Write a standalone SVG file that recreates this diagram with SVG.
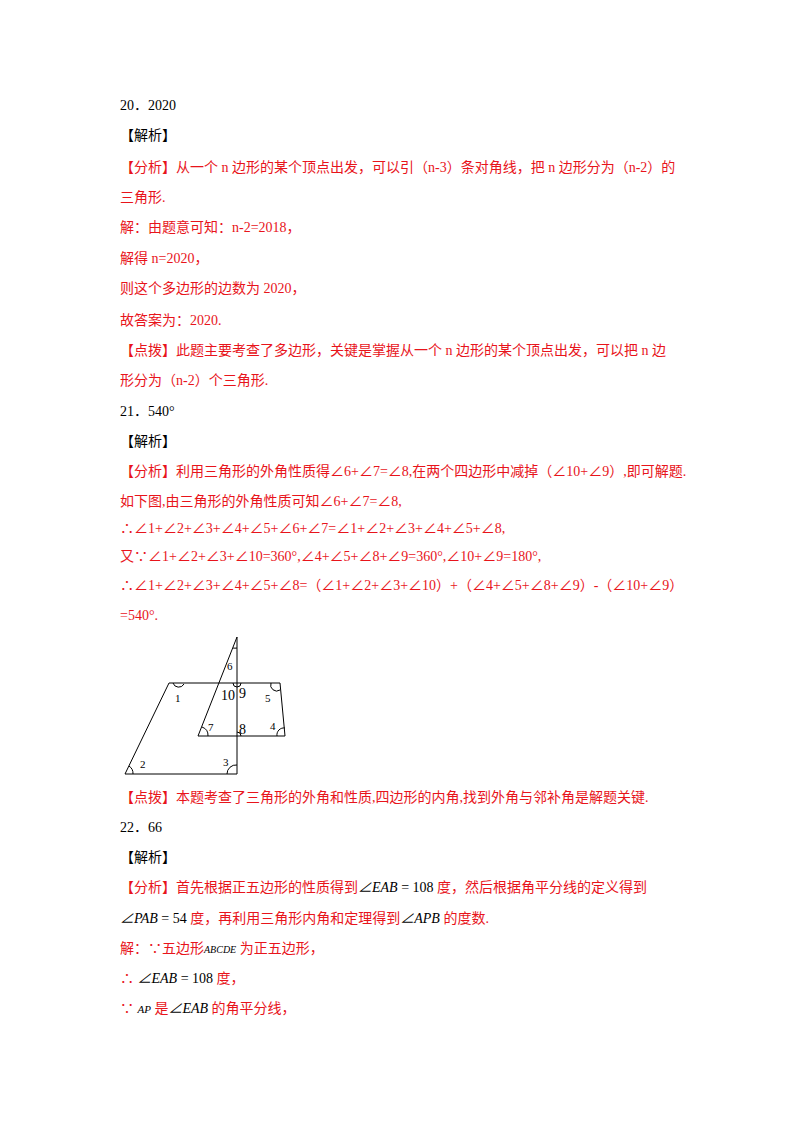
<svg xmlns="http://www.w3.org/2000/svg" width="800" height="1132" viewBox="0 0 800 1132">
<style>
text{font-family:"Liberation Serif","Noto Sans CJK SC",serif;font-size:14px;fill:#000}
.r{fill:#e8141b}
.fig line,.fig path{stroke:#000;stroke-width:1;fill:none}
.fl{font-size:11px}
</style>
<rect width="800" height="1132" fill="#fff"/>
<g id="text">
<text x="120" y="110">20．2020</text>
<text x="120" y="140">【解析】</text>
<text x="120" y="172" class="r">【分析】从一个 n 边形的某个顶点出发，可以引（n-3）条对角线，把 n 边形分为（n-2）的</text>
<text x="120" y="202" class="r">三角形.</text>
<text x="120" y="232" class="r">解：由题意可知：n-2=2018，</text>
<text x="120" y="263" class="r">解得 n=2020，</text>
<text x="120" y="293" class="r">则这个多边形的边数为 2020，</text>
<text x="120" y="325" class="r">故答案为：2020.</text>
<text x="120" y="355" class="r">【点拨】此题主要考查了多边形，关键是掌握从一个 n 边形的某个顶点出发，可以把 n 边</text>
<text x="120" y="385" class="r">形分为（n-2）个三角形.</text>
<text x="120" y="416">21．540°</text>
<text x="120" y="446">【解析】</text>
<text x="120" y="476" class="r">【分析】利用三角形的外角性质得∠6+∠7=∠8,在两个四边形中减掉（∠10+∠9）,即可解题.</text>
<text x="120" y="506" class="r">如下图,由三角形的外角性质可知∠6+∠7=∠8,</text>
<text x="120" y="533" class="r">∴∠1+∠2+∠3+∠4+∠5+∠6+∠7=∠1+∠2+∠3+∠4+∠5+∠8,</text>
<text x="120" y="561" class="r">又∵∠1+∠2+∠3+∠10=360°,∠4+∠5+∠8+∠9=360°,∠10+∠9=180°,</text>
<text x="120" y="590" class="r">∴∠1+∠2+∠3+∠4+∠5+∠8=（∠1+∠2+∠3+∠10）+（∠4+∠5+∠8+∠9）-（∠10+∠9）</text>
<text x="120" y="620" class="r">=540°.</text>
<text x="120" y="802" class="r">【点拨】本题考查了三角形的外角和性质,四边形的内角,找到外角与邻补角是解题关键.</text>
<text x="120" y="832">22．66</text>
<text x="120" y="862">【解析】</text>
<text x="120" y="892" class="r">【分析】首先根据正五边形的性质得到<tspan fill="#000" font-style="italic">∠EAB</tspan><tspan fill="#000"> = 108</tspan> 度，然后根据角平分线的定义得到</text>
<text x="120" y="923"><tspan font-style="italic">∠PAB</tspan> = 54<tspan class="r"> 度，再利用三角形内角和定理得到</tspan><tspan font-style="italic">∠APB</tspan><tspan class="r"> 的度数.</tspan></text>
<text x="120" y="953" class="r">解：∵五边形<tspan fill="#000" font-style="italic" font-size="10">ABCDE</tspan> 为正五边形，</text>
<text x="120" y="983" class="r">∴ <tspan fill="#000" font-style="italic">∠EAB</tspan><tspan fill="#000"> = 108</tspan> 度，</text>
<text x="120" y="1013" class="r">∵ <tspan fill="#000" font-style="italic" font-size="11">AP</tspan> 是<tspan fill="#000" font-style="italic">∠EAB</tspan> 的角平分线，</text>
</g>
<g id="figure" class="fig">
<line x1="125" y1="774" x2="169" y2="683"/>
<line x1="169" y1="683" x2="280" y2="683"/>
<line x1="280" y1="683" x2="285" y2="736"/>
<line x1="198" y1="736" x2="285" y2="736"/>
<line x1="125" y1="774" x2="237" y2="774"/>
<line x1="237" y1="637" x2="237" y2="774"/>
<line x1="237" y1="637" x2="198" y2="736"/>
<path d="M173 683 A6 6 0 0 0 184 684"/>
<path d="M133 774 A9 9 0 0 0 129 766"/>
<path d="M227 774 A9 9 0 0 1 237 765"/>
<path d="M285 728 A7 7 0 0 0 277 736"/>
<path d="M271 683 A6 6 0 0 0 280 690"/>
<path d="M208 736 A9 9 0 0 0 202 727"/>
<path d="M233 648 A11 11 0 0 0 237 648"/>
<path d="M233 683 A4 4 0 0 0 241 683"/>
<path d="M237 732 A4 4 0 0 1 241 736"/>
<text x="175" y="702" class="fl">1</text>
<text x="140" y="768" class="fl">2</text>
<text x="223" y="766" class="fl">3</text>
<text x="270" y="730" class="fl">4</text>
<text x="265" y="702" class="fl">5</text>
<text x="227" y="670" class="fl">6</text>
<text x="208" y="731" class="fl">7</text>
<text x="239" y="734" font-size="13">8</text>
<text x="239" y="698" font-size="13">9</text>
<text x="221" y="700" font-size="13">10</text>
</g>
</svg>
